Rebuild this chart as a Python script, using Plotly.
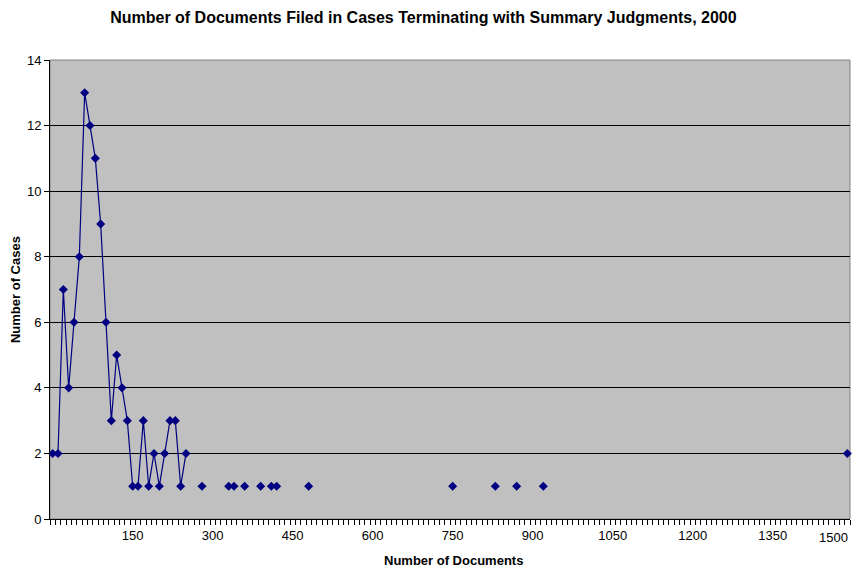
import plotly.graph_objects as go

# Data: documents filed (category) -> number of cases
run_docs = [0, 10, 20, 30, 40, 50, 60, 70, 80, 90, 100, 110, 120, 130, 140,
            150, 160, 170, 180, 190, 200, 210, 220, 230, 240, 250]
run_cases = [2, 2, 7, 4, 6, 8, 13, 12, 11, 9, 6, 3, 5, 4, 3,
             1, 1, 3, 1, 2, 1, 2, 3, 3, 1, 2]
iso_docs = [280, 330, 340, 360, 390, 410, 420, 480, 750, 830, 870, 920, 1490]
iso_cases = [1, 1, 1, 1, 1, 1, 1, 1, 1, 1, 1, 1, 2]

x_tick_vals = [150, 300, 450, 600, 750, 900, 1050, 1200, 1350]
x_tick_text = ["150", "300", "450", "600", "750", "900", "1050", "1200", "1350"]
last_tick_text = "1500"
y_tick_vals = [0, 2, 4, 6, 8, 10, 12, 14]

# full category axis (step 10), with gaps where no data
lookup = dict(zip(run_docs, run_cases))
lookup.update(dict(zip(iso_docs, iso_cases)))
cats = list(range(0, 1491, 10))
vals = [lookup.get(c) for c in cats]

navy = "#000080"
fig = go.Figure()
fig.add_trace(go.Scatter(
    x=cats, y=vals, mode="lines+markers", connectgaps=False,
    line=dict(color=navy, width=1.2),
    marker=dict(symbol="diamond", size=7, color=navy),
    showlegend=False, hoverinfo="x+y", cliponaxis=False))

font = "Liberation Sans, Arial, sans-serif"
fig.update_layout(
    width=853, height=571,
    margin=dict(l=50, r=3, t=60, b=52, autoexpand=False),
    paper_bgcolor="white", plot_bgcolor="#C0C0C0",
    font=dict(family=font, size=13, color="black"),
    title=dict(text="<b>Number of Documents Filed in Cases Terminating with Summary Judgments, 2000</b>",
               x=0.4964, xanchor="center", y=0.970, yanchor="middle",
               font=dict(size=16, family=font)),
    xaxis=dict(range=[-5, 1495], tickmode="array", tickvals=x_tick_vals, ticktext=x_tick_text,
               ticks="", showgrid=False, zeroline=False, automargin=False,
               showline=True, linecolor="black", linewidth=1,
               tickfont=dict(size=13), ticklabelstandoff=4,
               minor=dict(tick0=-5, dtick=10, ticks="outside", ticklen=5,
                          tickcolor="black", showgrid=False)),
    yaxis=dict(range=[0, 14], tickmode="array", tickvals=y_tick_vals,
               ticks="outside", ticklen=5, tickcolor="black", automargin=False,
               showgrid=True, gridcolor="black", gridwidth=1, zeroline=False,
               showline=True, linecolor="black", linewidth=1,
               tickfont=dict(size=13)),
    shapes=[dict(type="rect", xref="paper", yref="paper", x0=0, x1=1, y0=0, y1=1,
                 line=dict(color="#808080", width=1), layer="between")],
    annotations=[
        dict(text="<b>Number of Documents</b>", xref="paper", yref="paper",
             x=0.504, y=0, xanchor="center", yanchor="middle", yshift=-41,
             showarrow=False, font=dict(size=13)),
        dict(text="<b>Number of Cases</b>", xref="paper", yref="paper",
             x=-0.0431, y=0.5, xanchor="center", yanchor="middle", textangle=-90,
             showarrow=False, font=dict(size=13)),
        dict(text=last_tick_text, xref="paper", yref="paper",
             x=1, y=0, xanchor="right", yanchor="middle", yshift=-18,
             showarrow=False, font=dict(size=13)),
    ],
)
fig.write_html("out.html", config={"displayModeBar": False},
               post_script="document.body.style.margin='0';document.body.style.overflow='hidden';")
